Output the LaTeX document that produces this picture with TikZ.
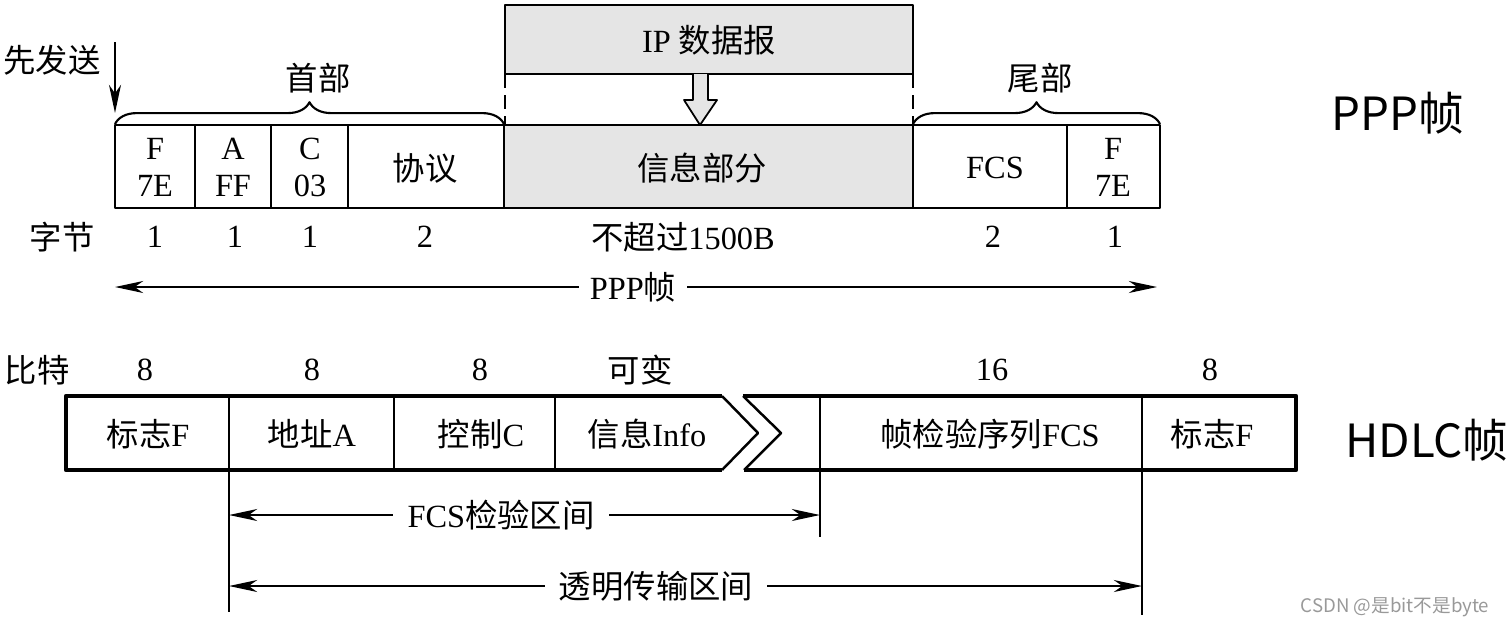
\documentclass[tikz,border=0pt]{standalone}
\usepackage{fontspec}
\setmainfont{Liberation Serif}
\newfontfamily\cjk{Noto Sans CJK SC}
\usepackage{tikz}
\usetikzlibrary{arrows.meta,decorations.pathreplacing}
\newcommand\cellfont{\fontsize{9.2}{10.5}\selectfont}
\tikzset{
  every picture/.style={font=\cellfont, line join=round, >={Stealth[length=8pt,width=3.4pt,inset=2.4pt]}},
  thinbox/.style={line width=0.5pt},
  frame/.style={line width=1.2pt},
  notch/.style={line width=0.7pt},
  span/.style={<->, line width=0.65pt},
  gap/.style={fill=white, inner xsep=4pt, inner ysep=1pt},
  hdr/.style={decorate, decoration={brace, amplitude=6.2pt}, line width=0.6pt},
  big/.style={font={\cjk\fontsize{13}{15}\selectfont}},
}

\begin{document}
\begin{tikzpicture}[x=0.01cm, y=-0.01cm]
\useasboundingbox (0,0) rectangle (1510,627);
\fill[black!10] (505,5) rectangle (913,74);
\draw[thinbox] (505,5) rectangle (913,74);
\node (ip) at (709,40) {IP {\cjk 数据报}};
\draw[thinbox, dash pattern=on 4pt off 2pt] (505,74) -- (505,125) (913,74) -- (913,125);
\draw[thinbox, fill=black!10] (693,74) -- (693,100) -- (684,100) -- (700,125) -- (717,100) -- (708,100) -- (708,74);

\fill[black!10] (504,125) rectangle (913,208);
\draw[thinbox] (115,125) rectangle (1160,208);
\foreach \x in {195,271,348,504,913,1067} \draw[thinbox] (\x,125) -- (\x,208);
\node[align=center] (flagF) at (155,167) {F\\7E};
\node[align=center] (addrA) at (233,167) {A\\FF};
\node[align=center] (ctrlC) at (310,167) {C\\03};
\node (proto) at (425,168) {\cjk 协议};
\node (info) at (702,168) {\cjk 信息部分};
\node (fcs) at (995,168) {FCS};
\node[align=center] (flagEnd) at (1113,167) {F\\7E};

\draw[hdr] (115,124) -- (504,124);
\node (head) at (318,78) {\cjk 首部};
\draw[hdr] (913,124) -- (1160,124);
\node (tail) at (1040,78) {\cjk 尾部};
\node (first) at (52,60) {\cjk 先发送};
\coordinate (sendTop) at (115,42);
\coordinate (sendBot) at (115,113);
\draw[->, line width=0.65pt] (sendTop) -- (sendBot);

\node (byteLbl) at (62,237) {\cjk 字节};
\foreach \x/\t [count=\i] in {155/1,235/1,310/1,425/2,993/2,1115/1}
  \node (byte\i) at (\x,237) {\t};
\node (maxLen) at (683,237) {{\cjk 不超过}1500B};
\coordinate (pppL) at (115,287);
\coordinate (pppR) at (1157,287);
\draw[span] (pppL) -- (pppR);
\node[gap, inner xsep=3pt] (pppLbl) at (633,287) {PPP{\cjk 帧}};
\node[big] (pppTag) at (1398,113) {PPP帧};

\draw[frame] (722,396) -- (66,396) -- (66,470) -- (722,470);
\draw[notch] (722,396) -- (758,433) -- (722,470);
\draw[frame] (743,396) -- (1296,396) -- (1296,470) -- (744,470);
\draw[notch] (743,396) -- (781,433) -- (744,470);
\draw[thinbox] (229,396) -- (229,612) (394,396) -- (394,470) (555,396) -- (555,470)
  (820,396) -- (820,537) (1142,396) -- (1142,615);

\node (bitLbl) at (37,370) {\cjk 比特};
\foreach \x/\t [count=\i] in {145/8,312/8,480/8,992/16,1210/8}
  \node (bit\i) at (\x,370) {\t};
\node (bitVar) at (640,370) {\cjk 可变};
\node (hFlag) at (148,434) {{\cjk 标志}F};
\node (hAddr) at (312,434) {{\cjk 地址}A};
\node (hCtrl) at (481,434) {{\cjk 控制}C};
\node (hInfo) at (647,434) {{\cjk 信息}Info};
\node (hFcs) at (990,434) {{\cjk 帧检验序列}FCS};
\node (hFlagEnd) at (1212,434) {{\cjk 标志}F};
\node[big] (hdlcTag) at (1427,440) {HDLC帧};

\coordinate (fcsL) at (229,515);
\coordinate (fcsR) at (820,515);
\draw[span] (fcsL) -- (fcsR);
\node[gap] (fcsLbl) at (501,515) {FCS{\cjk 检验区间}};
\coordinate (trL) at (229,586);
\coordinate (trR) at (1142,586);
\draw[span] (trL) -- (trR);
\node[gap] (trLbl) at (656,586) {\cjk 透明传输区间};

\node[text=black!40, font={\cjk\fontsize{5.3}{6.5}\selectfont}] (mark) at (1395,607) {CSDN @是bit不是byte};
\end{tikzpicture}
\end{document}
